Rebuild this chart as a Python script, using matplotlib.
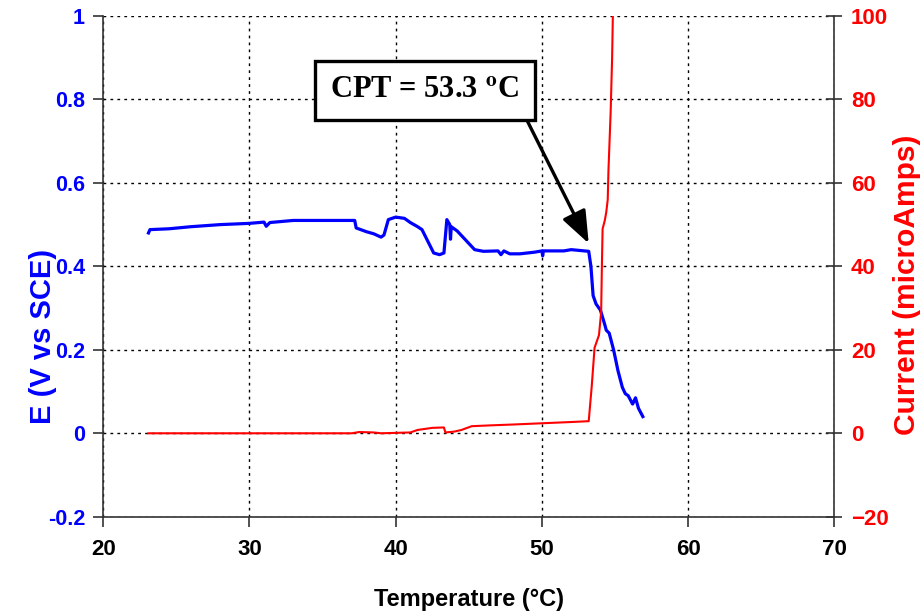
import matplotlib
matplotlib.use("Agg")
import matplotlib.pyplot as plt
import numpy as np

# %%
# data
temp_e = [23.1, 23.2, 24.5, 26.0, 28.0, 30.0, 31.0, 31.15, 31.4, 33.0, 35.0, 37.2,
          37.3, 38.0, 38.5, 39.0, 39.2, 39.5, 40.0, 40.6, 41.0, 41.5, 41.8, 42.2,
          42.6, 43.0, 43.3, 43.5, 43.7, 43.75, 43.8, 44.2, 45.0, 45.4, 46.0, 47.0,
          47.2, 47.4, 47.8, 48.5, 49.5, 50.0, 50.05, 50.1, 51.5, 52.0, 53.2, 53.35,
          53.5, 53.7, 54.0, 54.3, 54.4, 54.6, 54.9, 55.2, 55.5, 55.7, 55.9, 56.2,
          56.4, 56.6, 56.9]
potential = [0.480, 0.488, 0.490, 0.495, 0.500, 0.503, 0.506, 0.496, 0.505, 0.510, 0.510, 0.510,
             0.492, 0.483, 0.478, 0.470, 0.475, 0.512, 0.518, 0.515, 0.505, 0.495, 0.488, 0.460,
             0.432, 0.428, 0.432, 0.512, 0.500, 0.465, 0.495, 0.485, 0.455, 0.440, 0.436, 0.437,
             0.428, 0.437, 0.430, 0.430, 0.434, 0.437, 0.425, 0.437, 0.437, 0.440, 0.436, 0.400,
             0.330, 0.310, 0.295, 0.260, 0.247, 0.240, 0.200, 0.150, 0.110, 0.095, 0.090, 0.070,
             0.085, 0.060, 0.040]

temp_i = [23.1, 37.0, 37.5, 38.5, 39.0, 41.0, 41.5, 42.5, 43.3, 43.4, 44.0, 44.5,
          45.2, 46.5, 48.0, 50.0, 52.0, 53.2, 53.4, 53.6, 53.75, 53.9, 54.05, 54.1,
          54.15, 54.3, 54.4, 54.5, 54.55, 54.7, 54.8, 54.85, 54.9]
current = [0, 0, 0.3, 0.2, 0, 0.2, 0.8, 1.3, 1.4, 0.2, 0.4, 0.8,
           1.7, 1.9, 2.1, 2.4, 2.7, 2.9, 11, 20.5, 22, 23.5, 29, 40,
           49, 51, 53, 56, 63, 77, 90, 100, 105]

cpt_label = "CPT = 53.3 $^{\\bf o}$C"
cpt_point = (53.2, 0.455)

# %%
plt.rcParams["mathtext.fontset"] = "stix"
sans = ["Liberation Sans", "DejaVu Sans"]

fig = plt.figure(figsize=(9.21, 6.13), dpi=100)
ax = fig.add_axes([0.112, 0.157, 0.794, 0.817])
ax2 = ax.twinx()

ax.plot(temp_e, potential, color="#0000FF", linewidth=2.3, zorder=3)
ax2.plot(temp_i, current, color="#FF0000", linewidth=1.5, zorder=2)

ax.set_xlim(20, 70)
ax.set_ylim(-0.2, 1.0)
ax2.set_ylim(-20, 100)
ax.set_xticks(np.arange(20, 71, 10))
ax.set_yticks([-0.2, 0, 0.2, 0.4, 0.6, 0.8, 1.0])
ax.set_yticklabels(["-0.2", "0", "0.2", "0.4", "0.6", "0.8", "1"])
ax2.set_yticks(np.arange(-20, 101, 20))

ax.grid(True, color="black", linestyle=(0, (2, 3)), linewidth=1.0)
ax.set_axisbelow(True)

for a in (ax, ax2):
    a.spines["top"].set_visible(False)
ax.spines["right"].set_visible(False)
ax2.spines["left"].set_visible(False)
ax2.spines["bottom"].set_visible(False)
for s in ("left", "bottom"):
    ax.spines[s].set_linewidth(1.2)
    ax.spines[s].set_color("#333333")
ax2.spines["right"].set_linewidth(1.2)
ax2.spines["right"].set_color("#333333")

ax.tick_params(axis="y", direction="out", length=7, width=1.2, colors="#333333",
               labelcolor="#0000FF", labelsize=15.5, pad=6)
ax.tick_params(axis="x", direction="out", length=7, width=1.2, colors="#333333",
               labelcolor="black", labelsize=16, pad=9)
ax2.tick_params(axis="y", direction="inout", length=12, width=1.2, colors="#333333",
                labelcolor="#FF0000", labelsize=16, pad=6)
for lab in ax.get_yticklabels() + ax2.get_yticklabels() + ax.get_xticklabels():
    lab.set_fontweight("bold")
    lab.set_family(sans)

ax.set_xlabel("Temperature (\u00b0C)", fontsize=17, fontweight="bold", family=sans, labelpad=20)
ax.set_ylabel("E (V vs SCE)", fontsize=21, fontweight="bold", color="#0000FF", family=sans)
ax2.set_ylabel("Current (microAmps)", fontsize=21.5, fontweight="bold", color="#FF0000", family=sans)
ax.yaxis.set_label_coords(-0.0635, 0.361)
ax2.yaxis.set_label_coords(1.08, 0.463)

ax.annotate(cpt_label, xy=cpt_point, xytext=(0.44, 0.851), textcoords="axes fraction",
            fontsize=22, fontweight="bold", family="Liberation Serif", ha="center", va="center",
            bbox=dict(boxstyle="square,pad=0.5", facecolor="white", edgecolor="black", linewidth=2.4),
            arrowprops=dict(arrowstyle="-|>,head_length=0.9,head_width=0.35", color="black",
                            linewidth=2.4, shrinkA=0, shrinkB=0,
                            relpos=(1.0, 0.0)),
            zorder=5)

fig.savefig("out.png", dpi=100)
